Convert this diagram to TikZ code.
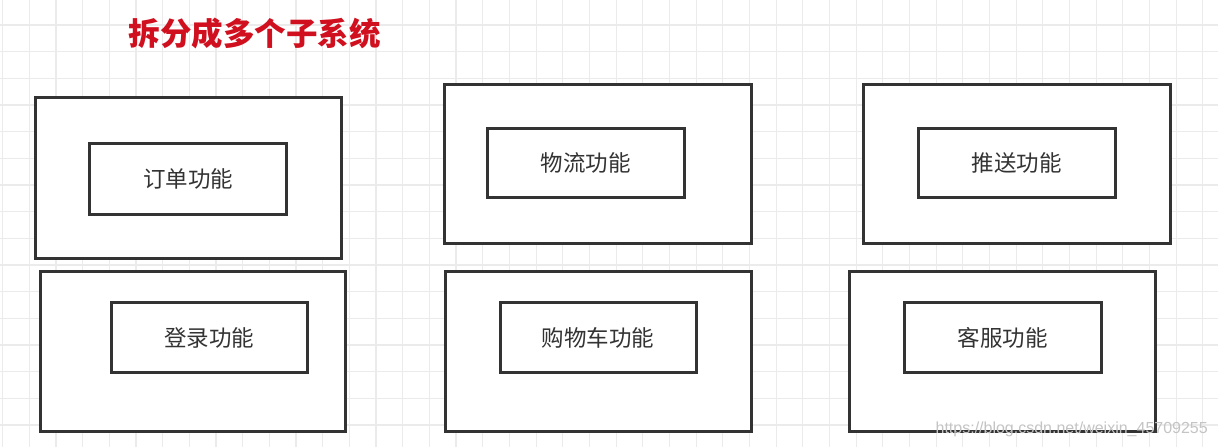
\documentclass[tikz,border=0pt]{standalone}
\usepackage{fontspec}
\setmainfont{Liberation Sans}
\newfontfamily\cjk{Noto Sans CJK SC}
\definecolor{gridc}{HTML}{EBEBEB}
\definecolor{boxc}{HTML}{333333}
\definecolor{titlec}{HTML}{D0101E}
\definecolor{wmc}{HTML}{C4C4C4}
\begin{document}
\begin{tikzpicture}[x=1pt,y=-1pt,
  outerbox/.style={draw=boxc,line width=3pt,fill=white,inner sep=0pt},
  innerbox/.style={draw=boxc,line width=3pt,fill=white,inner sep=0pt,font=\cjk\fontsize{22.5}{24}\selectfont,text=boxc},
  gridline/.style={draw=gridc,line width=1.2pt}]
\useasboundingbox (0,0) rectangle (1218,447);
\fill[white] (0,0) rectangle (1218,447);
\foreach \i in {0,...,45} {
  \draw[gridline] (2.7+26.67*\i,0) -- (2.7+26.67*\i,447);
}
\foreach \j in {1,...,17} {
  \draw[gridline] (0,-1.7+26.67*\j) -- (1218,-1.7+26.67*\j);
}
\node[text=titlec,font=\cjk\bfseries\fontsize{31.5}{34}\selectfont] (title) at (254.5,33) {拆分成多个子系统};
% row 1
\node[outerbox,minimum width=306.5pt,minimum height=160.7pt] (o1) at (188.5,177.7) {};
\node[innerbox,minimum width=197.4pt,minimum height=71pt] (i1) at (188,178.8) {\raisebox{-1.2pt}{订单功能}};
\node[outerbox,minimum width=306.7pt,minimum height=159.3pt] (o2) at (598.3,163.7) {};
\node[innerbox,minimum width=196.7pt,minimum height=69.4pt] (i2) at (585.7,163) {\raisebox{-1.2pt}{物流功能}};
\node[outerbox,minimum width=306.7pt,minimum height=159.3pt] (o3) at (1016.7,163.7) {};
\node[innerbox,minimum width=196.7pt,minimum height=69.4pt] (i3) at (1016.7,163) {\raisebox{-1.2pt}{推送功能}};
% row 2
\node[outerbox,minimum width=305.3pt,minimum height=160pt] (o4) at (193.3,351) {};
\node[innerbox,minimum width=196.3pt,minimum height=69.6pt] (i4) at (209.2,337.5) {\raisebox{-1.2pt}{登录功能}};
\node[outerbox,minimum width=306pt,minimum height=160pt] (o5) at (598,351) {};
\node[innerbox,minimum width=196pt,minimum height=69.6pt] (i5) at (598,337.5) {\raisebox{-1.2pt}{购物车功能}};
\node[outerbox,minimum width=305.7pt,minimum height=160pt] (o6) at (1002.2,351) {};
\node[innerbox,minimum width=196.7pt,minimum height=69.6pt] (i6) at (1002.7,337.5) {\raisebox{-1.2pt}{客服功能}};
\node[anchor=base east,text=wmc,font=\fontsize{16}{18}\selectfont,inner sep=0pt] (wm) at (1208,433) {https://blog.csdn.net/weixin\_45709255};
\end{tikzpicture}
\end{document}
